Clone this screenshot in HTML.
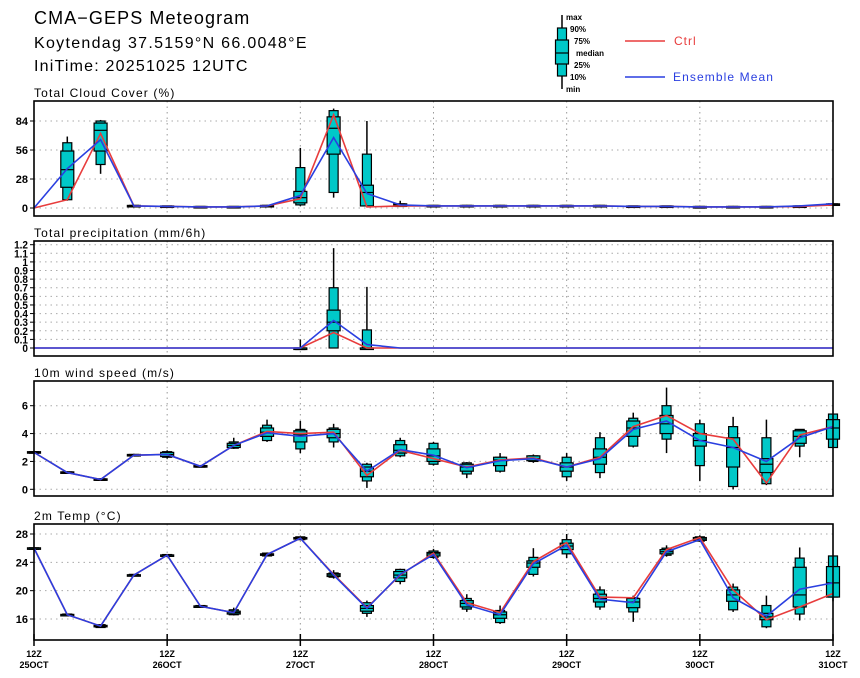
<!DOCTYPE html>
<html><head><meta charset="utf-8">
<style>
html,body{margin:0;padding:0;background:#fff;}
svg{display:block;font-family:"Liberation Sans",sans-serif;}
.t{font-weight:bold;}
</style></head>
<body>
<svg id="chart" width="860" height="678" viewBox="0 0 860 678">
<text x="34" y="24" font-size="18" letter-spacing="1.1">CMA−GEPS Meteogram</text>
<text x="34" y="48" font-size="16" letter-spacing="1.3">Koytendag 37.5159°N 66.0048°E</text>
<text x="34" y="71" font-size="16" letter-spacing="1.2">IniTime: 20251025 12UTC</text>
<g>
 <g>
  <line x1="562" y1="15" x2="562" y2="89" stroke="#000" stroke-width="1.5"/>
  <rect x="557.5" y="28" width="9" height="48" fill="#00c8c8" stroke="#000" stroke-width="1.2"/>
  <rect x="555.5" y="40" width="13" height="24" fill="#00c8c8" stroke="#000" stroke-width="1.2"/>
  <line x1="555.5" y1="53" x2="568.5" y2="53" stroke="#000" stroke-width="1.2"/>
  <g font-size="8" class="t">
   <text x="566" y="20">max</text><text x="570" y="32">90%</text><text x="574" y="44">75%</text>
   <text x="576" y="56">median</text><text x="574" y="68">25%</text><text x="570" y="80">10%</text><text x="566" y="92">min</text>
  </g>
 </g>
 <line x1="625" y1="41" x2="665" y2="41" stroke="#e83c3c" stroke-width="1.5"/>
 <text x="674" y="45" font-size="12" letter-spacing="1" fill="#e83c3c">Ctrl</text>
 <line x1="625" y1="77" x2="665" y2="77" stroke="#2a3fe0" stroke-width="1.5"/>
 <text x="673" y="81" font-size="12" letter-spacing="1.1" fill="#2a3fe0">Ensemble Mean</text>
</g>
<g id="plots"></g>
</svg>
<script>
// ---- data (25 steps, 6-hourly from 12Z 25OCT) ----
const dayLabels = ["25OCT","26OCT","27OCT","28OCT","29OCT","30OCT","31OCT"];
// Total cloud cover (%)
const cloudCtrl = [0,8,72,2,1.5,1,1,2,9,90,1,2,2,2,2,2,2,2,1.5,1.5,1,1,1,1.5,3];
const cloudMean = [0,38,66,2,1.5,1,1,2,12,68,14,3,2,2,2,2,2,2,1.5,1.5,1,1,1,2,4];
const cloudMin  = [0,7,33,1,1,0.5,0.5,1,2,10,1,1,1.5,1.5,1.5,1.5,1.5,1.5,1,1,0,0.5,0.5,1,2];
const cloudP10  = [0,8,42,1.5,1,0.5,0.5,1.5,3,15,2,1.5,1.5,1.5,1.5,1.5,1.5,1.5,1,1,0,0.5,0.5,1,2.5];
const cloudP25  = [0,20,55,1.5,1,0.5,0.5,1.5,5,52,2,1.5,1.5,1.5,1.5,1.5,1.5,1.5,1,1,0,0.5,0.5,1,2.5];
const cloudMed  = [0,37,75,2,1.5,1,1,2,10,77,15,3,2,2,2,2,2,2,1.5,1.5,1,1,1,1.5,3];
const cloudP75  = [0,55,82,2.5,2,1.5,1.5,2.5,16,88,22,4,2.5,2.5,2.5,2.5,2.5,2.5,2,2,1.5,1.5,1.5,2,4];
const cloudP90  = [0,63,84,2.5,2,1.5,1.5,2.5,39,94,52,4,2.5,2.5,2.5,2.5,2.5,2.5,2,2,1.5,1.5,1.5,2,4];
const cloudMax  = [0,69,85,3,2,1.5,1.5,3,58,96,84,7,3,3,3,3,3,3,2,2,2,2,2,2.5,5];
// Total precipitation (mm/6h)
const precCtrl = [0,0,0,0,0,0,0,0,0,0.18,0,0,0,0,0,0,0,0,0,0,0,0,0,0,0];
const precMean = [0,0,0,0,0,0,0,0,0,0.32,0.04,0,0,0,0,0,0,0,0,0,0,0,0,0,0];
const precMin  = [0,0,0,0,0,0,0,0,0,0,0,0,0,0,0,0,0,0,0,0,0,0,0,0,0];
const precP10  = [0,0,0,0,0,0,0,0,0,0,0,0,0,0,0,0,0,0,0,0,0,0,0,0,0];
const precP25  = [0,0,0,0,0,0,0,0,0,0.2,0,0,0,0,0,0,0,0,0,0,0,0,0,0,0];
const precMed  = [0,0,0,0,0,0,0,0,0,0.3,0,0,0,0,0,0,0,0,0,0,0,0,0,0,0];
const precP75  = [0,0,0,0,0,0,0,0,0,0.44,0,0,0,0,0,0,0,0,0,0,0,0,0,0,0];
const precP90  = [0,0,0,0,0,0,0,0,0,0.7,0.21,0,0,0,0,0,0,0,0,0,0,0,0,0,0];
const precMax  = [0,0,0,0,0,0,0,0,0.1,1.16,0.71,0,0,0,0,0,0,0,0,0,0,0,0,0,0];
// 10m wind speed (m/s)
const windCtrl = [2.65,1.2,0.7,2.45,2.5,1.65,3.15,4.15,4.0,4.1,1.0,2.8,2.2,1.6,2.1,2.25,1.6,2.3,4.5,5.3,4.0,3.6,0.45,3.9,4.5];
const windMean = [2.65,1.2,0.7,2.45,2.5,1.65,3.15,4.05,3.8,4.0,1.3,2.85,2.45,1.55,2.05,2.2,1.6,2.2,4.3,4.9,3.5,3.0,2.0,3.7,4.5];
const windMin  = [2.6,1.15,0.65,2.4,2.2,1.55,2.9,3.4,2.6,3.0,0.1,2.3,1.7,0.8,1.2,1.9,0.6,0.8,3.0,2.6,0.6,0.0,0.3,2.3,3.0];
const windP10  = [2.6,1.15,0.65,2.4,2.3,1.6,2.95,3.5,2.9,3.4,0.6,2.4,1.8,1.1,1.3,2.0,0.9,1.2,3.1,3.6,1.7,0.2,0.4,3.1,3.0];
const windP25  = [2.6,1.15,0.65,2.4,2.35,1.6,3.0,3.8,3.4,3.7,0.9,2.6,2.0,1.3,1.7,2.05,1.3,1.8,3.8,4.0,3.1,1.6,1.2,3.3,3.6];
const windMed  = [2.65,1.2,0.7,2.45,2.5,1.65,3.15,4.1,3.9,4.0,1.3,2.8,2.4,1.6,2.1,2.2,1.6,2.3,4.4,4.7,3.5,3.0,1.8,3.8,4.4];
const windP75  = [2.7,1.25,0.75,2.5,2.65,1.7,3.3,4.4,4.2,4.3,1.6,3.2,2.9,1.8,2.3,2.4,1.9,2.9,4.9,5.3,4.0,3.7,2.2,4.2,5.0];
const windP90  = [2.7,1.25,0.75,2.5,2.7,1.7,3.4,4.6,4.3,4.4,1.8,3.5,3.3,1.9,2.3,2.4,2.3,3.7,5.1,6.0,4.7,4.5,3.7,4.3,5.4];
const windMax  = [2.75,1.3,0.8,2.55,2.8,1.75,3.7,5.0,4.9,4.7,1.9,3.7,3.4,1.95,2.6,2.5,2.6,4.1,5.5,7.3,5.0,5.2,5.0,4.3,5.4];
// 2m temperature (°C)
const tempCtrl = [26.0,16.6,15.0,22.2,25.0,17.8,16.9,25.1,27.4,22.3,17.6,22.2,25.3,18.3,16.9,24.1,26.8,19.1,19.0,25.8,27.5,20.1,15.9,17.7,19.6];
const tempMean = [26.0,16.6,15.0,22.2,25.0,17.8,16.9,25.1,27.4,22.2,17.5,22.3,25.1,18.0,16.6,23.8,26.4,18.8,18.3,25.5,27.2,19.0,16.4,20.2,21.1];
const tempMin  = [25.9,16.5,14.8,22.1,24.9,17.7,16.5,24.9,27.2,21.7,16.3,20.9,24.5,17.0,15.3,22.0,24.6,17.3,15.6,24.8,26.9,17.0,14.7,15.8,18.5];
const tempP10  = [25.95,16.5,14.8,22.1,24.9,17.7,16.6,24.9,27.2,21.9,16.8,21.3,24.7,17.4,15.5,22.3,25.2,17.7,17.0,25.0,27.0,17.3,14.9,16.7,19.1];
const tempP25  = [25.95,16.55,14.9,22.15,24.95,17.75,16.7,25.0,27.3,22.0,17.1,21.8,24.9,17.7,16.1,23.3,25.8,18.4,17.6,25.2,27.1,18.5,15.9,17.7,19.1];
const tempMed  = [26.0,16.6,15.0,22.2,25.0,17.8,16.9,25.1,27.4,22.2,17.5,22.2,25.2,18.2,16.6,23.9,26.3,18.9,18.4,25.5,27.3,19.4,16.3,19.4,21.1];
const tempP75  = [26.05,16.65,15.1,22.25,25.05,17.85,17.1,25.2,27.5,22.4,17.9,22.7,25.4,18.6,17.0,24.2,26.7,19.5,18.9,25.8,27.5,20.1,16.8,23.3,23.4];
const tempP90  = [26.05,16.7,15.2,22.3,25.1,17.9,17.3,25.3,27.6,22.5,18.3,23.0,25.6,18.9,17.2,24.7,27.2,20.1,19.0,26.0,27.6,20.5,17.9,24.6,24.9];
const tempMax  = [26.1,16.7,15.2,22.3,25.1,17.9,17.6,25.4,27.6,22.9,18.6,23.1,25.9,19.5,17.9,26.0,28.0,20.6,19.3,26.4,27.8,21.0,19.3,26.1,24.9];

const panels = [
 {name:"cloud-cover",title:"Total Cloud Cover (%)",top:101,bot:216,v0:0,y0:208,v1:84,y1:121,ticks:[0,28,56,84],tickLbl:["0","28","56","84"],grid:[0,28,56,84],
  ctrl:cloudCtrl,mean:cloudMean,mn:cloudMin,p10:cloudP10,p25:cloudP25,md:cloudMed,p75:cloudP75,p90:cloudP90,mx:cloudMax,fs:11},
 {name:"precipitation",title:"Total precipitation (mm/6h)",top:241,bot:356,v0:0,y0:348,v1:1.2,y1:244.7,ticks:[0,0.1,0.2,0.3,0.4,0.5,0.6,0.7,0.8,0.9,1,1.1,1.2],
  tickLbl:["0","0.1","0.2","0.3","0.4","0.5","0.6","0.7","0.8","0.9","1","1.1","1.2"],grid:[0,0.1,0.2,0.3,0.4,0.5,0.6,0.7,0.8,0.9,1,1.1,1.2],
  ctrl:precCtrl,mean:precMean,mn:precMin,p10:precP10,p25:precP25,md:precMed,p75:precP75,p90:precP90,mx:precMax,fs:10,tight:true},
 {name:"wind-speed",title:"10m wind speed (m/s)",top:381,bot:496,v0:0,y0:489.3,v1:6,y1:405.7,ticks:[0,2,4,6],tickLbl:["0","2","4","6"],grid:[0,2,4,6],
  ctrl:windCtrl,mean:windMean,mn:windMin,p10:windP10,p25:windP25,md:windMed,p75:windP75,p90:windP90,mx:windMax,fs:11},
 {name:"temperature",title:"2m Temp (°C)",top:524,bot:640,v0:16,y0:619,v1:28,y1:534,ticks:[16,20,24,28],tickLbl:["16","20","24","28"],grid:[16,20,24,28],
  ctrl:tempCtrl,mean:tempMean,mn:tempMin,p10:tempP10,p25:tempP25,md:tempMed,p75:tempP75,p90:tempP90,mx:tempMax,fs:11}
];
const X0=34, X1=833, NSTEP=24;
function xs(i){return X0+(X1-X0)*i/NSTEP;}
const NS="http://www.w3.org/2000/svg";
function mk(tag,attrs,parent){const e=document.createElementNS(NS,tag);for(const k in attrs)e.setAttribute(k,attrs[k]);parent.appendChild(e);return e;}
const root=document.getElementById('plots');

panels.forEach(p=>{
 const ys=v=>p.y0+(v-p.v0)*(p.y1-p.y0)/(p.v1-p.v0);
 const g=mk('g',{},root);
 
 
 const title=mk('text',{x:34,y:p.top-4,'font-size':12,'letter-spacing':1.15},g);
 title.textContent=p.title;
 
 
 p.grid.forEach(v=>{
  const l=mk('line',{x1:X0,x2:X1,y1:ys(v),y2:ys(v),stroke:'#aaa','stroke-width':1,'stroke-dasharray':'1.5,4'},g);
  
  
 });
 for(let d=1;d<6;d++){
  const l=mk('line',{x1:xs(d*4),x2:xs(d*4),y1:p.top,y2:p.bot,stroke:'#999','stroke-width':1,'stroke-dasharray':'1.5,4'},g);
  
  
 }
 p.ticks.forEach((v,k)=>{
  const y=ys(v);
  mk('line',{x1:X0-4,x2:X0,y1:y,y2:y,stroke:'#000','stroke-width':1},g);
  const t=mk('text',{x:X0-6,y:y+4,'font-size':p.fs,'text-anchor':'end','class':'t'},g);
  if(p.tight){t.setAttribute('transform',`translate(${X0-6},${y+4}) scale(1,1.1) translate(${-(X0-6)},${-(y+4)})`);}
  t.textContent=p.tickLbl[k];
  
  
 });
 for(let i=0;i<=NSTEP;i++){
  const x=xs(i);
  const bg=mk('g',{},g);
  
  
  if(p.mx[i]-p.mn[i]<=0) continue;
  mk('line',{x1:x,x2:x,y1:ys(p.mx[i]),y2:ys(p.mn[i]),stroke:'#000','stroke-width':1.5},bg);
  const o1=ys(p.p90[i]),o2=ys(p.p10[i]);
  mk('rect',{x:x-4.5,y:o1,width:9,height:Math.max(o2-o1,1.5),fill:'#00c8c8',stroke:'#000','stroke-width':1.2},bg);
  const i1=ys(p.p75[i]),i2=ys(p.p25[i]);
  mk('rect',{x:x-6.5,y:i1,width:13,height:Math.max(i2-i1,1.5),fill:'#00c8c8',stroke:'#000','stroke-width':1.2},bg);
  mk('line',{x1:x-6.5,x2:x+6.5,y1:ys(p.md[i]),y2:ys(p.md[i]),stroke:'#000','stroke-width':1.2},bg);
 }
 const ptsC=p.ctrl.map((v,i)=>xs(i)+','+ys(v)).join(' ');
 const lc=mk('polyline',{points:ptsC,fill:'none',stroke:'#e83c3c','stroke-width':1.6},g);
 
 
 const ptsM=p.mean.map((v,i)=>xs(i)+','+ys(v)).join(' ');
 const lm=mk('polyline',{points:ptsM,fill:'none',stroke:'#2a3fe0','stroke-width':1.6},g);
 
 
 const fr=mk('rect',{x:X0,y:p.top,width:X1-X0,height:p.bot-p.top,fill:'none',stroke:'#000','stroke-width':1.6},g);
 
 
});
for(let d=0;d<7;d++){
 const x=xs(d*4);
 mk('line',{x1:x,x2:x,y1:634,y2:646,stroke:'#000','stroke-width':1.5},root);
 const t1=mk('text',{x:x,y:657,'font-size':9,'text-anchor':'middle','class':'t'},root);
 t1.textContent='12Z';
 
 
 const t2=mk('text',{x:x,y:668,'font-size':9,'text-anchor':'middle','class':'t'},root);
 t2.textContent=dayLabels[d];
 
 
}
</script>
</body></html>
